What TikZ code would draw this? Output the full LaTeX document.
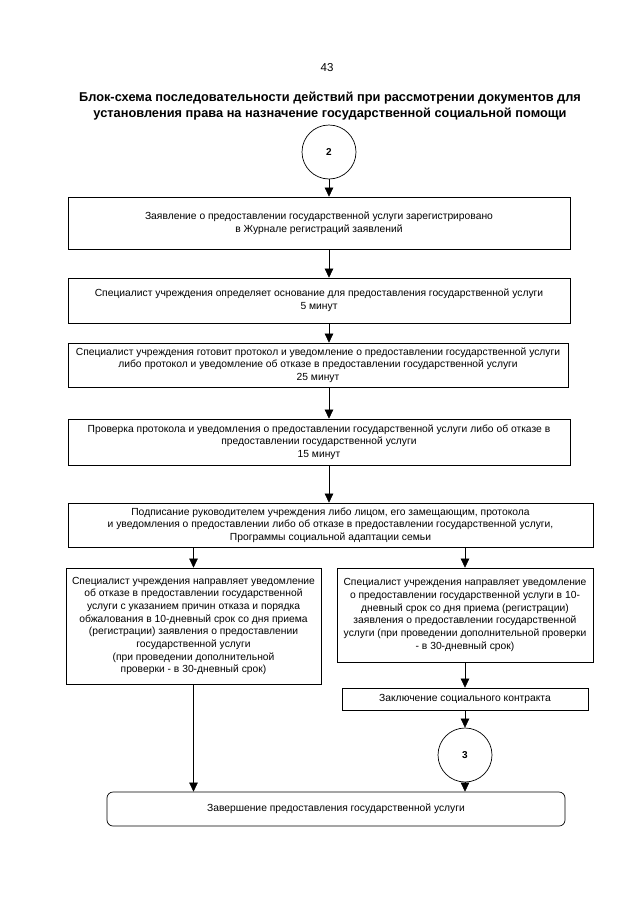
\documentclass[tikz,border=0pt]{standalone}
\usepackage{fontspec}
\setmainfont{Liberation Sans}
\usetikzlibrary{arrows.meta}

\begin{document}
\begin{tikzpicture}[x=1pt,y=-1pt,
    box/.style={draw, line width=0.7pt, rectangle, align=center, inner sep=0pt,
        font=\fontsize{10.3}{12.7}\selectfont},
    endbox/.style={box, rounded corners=6pt},
    mark circle/.style={draw, line width=0.7pt, circle, inner sep=0pt,
        font=\fontsize{10}{12}\selectfont\bfseries},
    conn/.style={line width=0.6pt, -{Triangle[width=8.5pt,length=9pt]}}]

\fill[white] (0,0) rectangle (640,905);
\useasboundingbox (0,0) rectangle (640,905);

% Page number and heading
\node (pagenum) at (327,68) {\fontsize{11.5}{13}\selectfont 43};
\node[align=center, font=\fontsize{12.8}{16}\selectfont\bfseries] (title) at (330,106)
    {Блок-схема последовательности действий при рассмотрении документов для\\
     установления права на назначение государственной социальной помощи};

% Main chain
\node[mark circle, minimum size=54pt] (c2) at (329,152) {2};
\node[box, minimum width=502pt, minimum height=52pt] (b1) at (319,223)
    {Заявление о предоставлении государственной услуги зарегистрировано\\
     в Журнале регистраций заявлений};
\node[box, minimum width=502pt, minimum height=45pt] (b2) at (319,300.5)
    {Специалист учреждения определяет основание для предоставления государственной услуги\\
     5 минут};
\node[box, minimum width=500pt, minimum height=44pt] (b3) at (318,365)
    {Специалист учреждения готовит протокол и уведомление о предоставлении государственной услуги\\
     либо протокол и уведомление об отказе в предоставлении государственной услуги\\
     25 минут};
\node[box, minimum width=502pt, minimum height=46pt] (b4) at (319,442)
    {Проверка протокола и уведомления о предоставлении государственной услуги либо об отказе в\\
     предоставлении государственной услуги\\
     15 минут};
\node[box, minimum width=525pt, minimum height=44pt] (b5) at (330.5,525)
    {Подписание руководителем учреждения либо лицом, его замещающим, протокола\\
     и уведомления о предоставлении либо об отказе в предоставлении государственной услуги,\\
     Программы социальной адаптации семьи};

% Two branches
\node[box, minimum width=255pt, minimum height=116pt] (lbox) at (193.5,626)
    {Специалист учреждения направляет уведомление\\
     об отказе в предоставлении государственной\\
     услуги с указанием причин отказа и порядка\\
     обжалования в 10-дневный срок со дня приема\\
     (регистрации) заявления о предоставлении\\
     государственной услуги\\
     (при проведении дополнительной\\
     проверки - в 30-дневный срок)};
\node[box, minimum width=256pt, minimum height=94pt] (rbox) at (465,615)
    {Специалист учреждения направляет уведомление\\
     о предоставлении государственной услуги в 10-\\
     дневный срок со дня приема (регистрации)\\
     заявления о предоставлении государственной\\
     услуги (при проведении дополнительной проверки\\
     - в 30-дневный срок)};
\node[box, minimum width=246pt, minimum height=22pt] (contract) at (465,699)
    {Заключение социального контракта};
\node[mark circle, minimum size=54pt] (c3) at (465,755) {3};
\node[endbox, minimum width=458pt, minimum height=34pt] (fin) at (336,809)
    {Завершение предоставления государственной услуги};

% Connectors
\draw[conn] (c2) -- (c2 |- b1.north);
\draw[conn] (b1.south -| c2) -- (b2.north -| c2);
\draw[conn] (b2.south -| c2) -- (b3.north -| c2);
\draw[conn] (b3.south -| c2) -- (b4.north -| c2);
\draw[conn] (b4.south -| c2) -- (b5.north -| c2);
\draw[conn] (b5.south -| lbox) -- (lbox.north);
\draw[conn] (b5.south -| rbox) -- (rbox.north);
\draw[conn] (rbox) -- (contract);
\draw[conn] (contract) -- (c3);
\draw[conn] (c3) -- (c3 |- fin.north);
\draw[conn] (lbox) -- (lbox |- fin.north);

\end{tikzpicture}
\end{document}
